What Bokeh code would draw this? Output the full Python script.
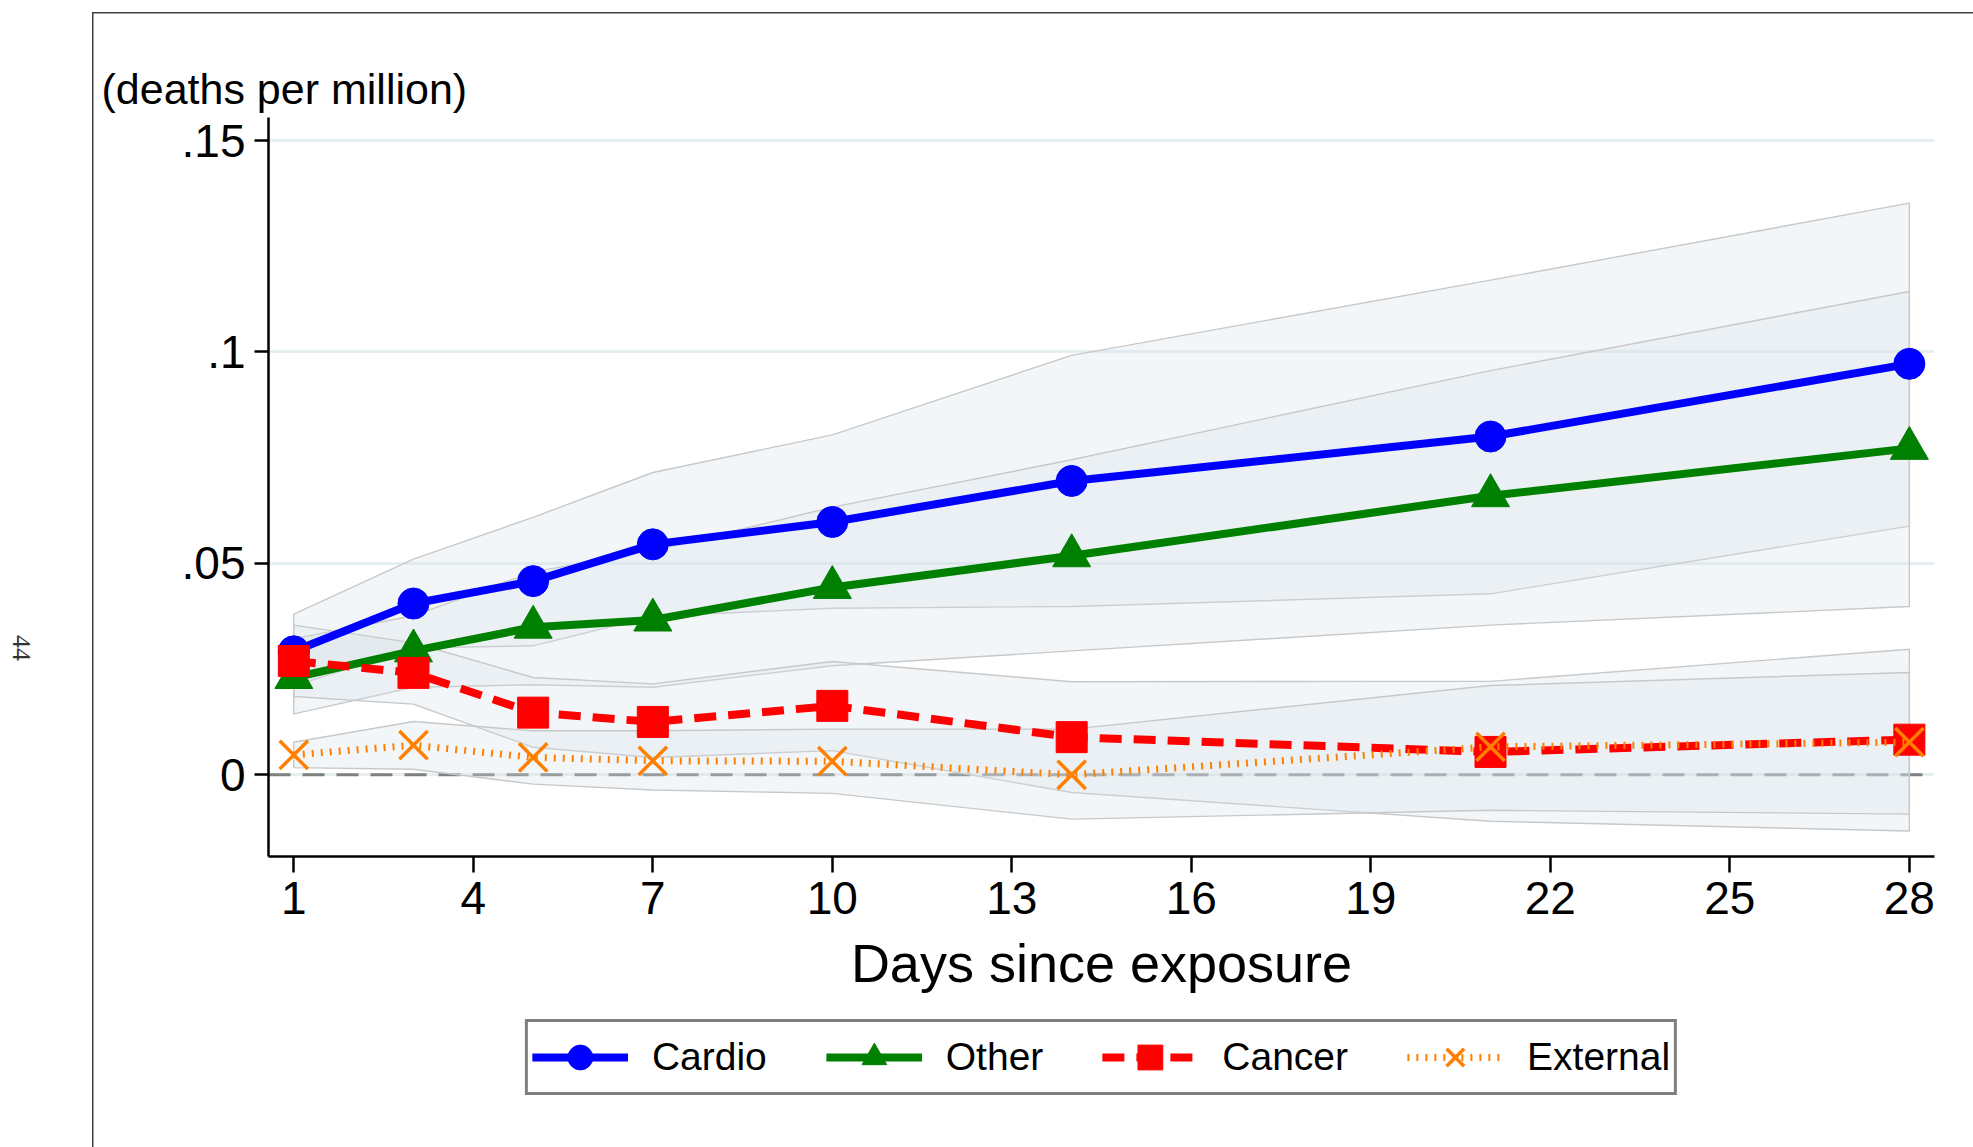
from bokeh.plotting import figure
from bokeh.layouts import row, column
from bokeh.models import Range1d, FixedTicker, Span, Legend, LegendItem, Title, Div
from bokeh.embed import file_html
from bokeh.resources import INLINE

# Days since exposure at which the effect is estimated
days = [1, 3, 5, 7, 10, 14, 21, 28]

# Estimated excess deaths per million, with 95% confidence bounds
cardio = [0.0292, 0.0405, 0.0458, 0.0545, 0.0598, 0.0695, 0.0800, 0.0972]
cardio_hi = [0.0380, 0.0510, 0.0609, 0.0715, 0.0804, 0.0992, 0.1170, 0.1352]
cardio_lo = [0.0210, 0.0300, 0.0305, 0.0375, 0.0394, 0.0398, 0.0428, 0.0588]

other = [0.0230, 0.0293, 0.0349, 0.0366, 0.0443, 0.0518, 0.0660, 0.0772]
other_hi = [0.0322, 0.0376, 0.0480, 0.0530, 0.0633, 0.0745, 0.0956, 0.1143]
other_lo = [0.0144, 0.0207, 0.0213, 0.0207, 0.0258, 0.0293, 0.0354, 0.0398]

cancer = [0.0269, 0.0241, 0.0147, 0.0125, 0.0163, 0.0089, 0.0054, 0.0083]
cancer_hi = [0.0354, 0.0312, 0.0230, 0.0215, 0.0268, 0.0220, 0.0221, 0.0297]
cancer_lo = [0.0185, 0.0167, 0.0065, 0.0041, 0.0057, -0.0042, -0.0110, -0.0133]

external = [0.0047, 0.0070, 0.0041, 0.0033, 0.0032, 0.0000, 0.0066, 0.0077]
external_hi = [0.0077, 0.0126, 0.0104, 0.0104, 0.0108, 0.0108, 0.0211, 0.0242]
external_lo = [0.0017, 0.0013, -0.0022, -0.0036, -0.0044, -0.0105, -0.0084, -0.0093]

x_ticks = [1, 4, 7, 10, 13, 16, 19, 22, 25, 28]
y_ticks = [0, 0.05, 0.1, 0.15]
y_tick_labels = {0: "0", 0.05: ".05", 0.1: ".1", 0.15: ".15"}

FONT = "Liberation Sans"
BORDER = "#404040"

# series styles shared by the chart and its key
STYLES = [
    ("Cardio", cardio, dict(line_color="#0000ff", line_width=8),
     dict(marker="circle", size=31, color="#0000ff")),
    ("Other", other, dict(line_color="#008000", line_width=8),
     dict(marker="triangle", size=38, color="#008000")),
    ("Cancer", cancer, dict(line_color="#ff0000", line_width=8, line_dash="22 12"),
     dict(marker="square", size=31, color="#ff0000")),
    ("External", external, dict(line_color="#ff8000", line_width=7, line_dash="2 7"),
     dict(marker="x", size=40, line_color="#ff8000", line_width=3.5)),
]

# ---- page margin with the page number, printed sideways ----
page_number = Div(
    text='<div style="position:relative;width:92px;height:1147px;">'
         '<span style="position:absolute;left:21px;top:648px;'
         'transform:translate(-50%,-50%) rotate(90deg);'
         "font-family:'Liberation Serif';font-size:26px;line-height:1;"
         'color:#333333;">44</span></div>',
    width=92, height=1147, margin=0)

# ---- main chart ----
p = figure(width=1881, height=1010, output_backend="svg", toolbar_location=None,
           x_range=Range1d(0.577, 28.42), y_range=Range1d(-0.01933, 0.15546),
           min_border_left=176, min_border_right=39,
           min_border_top=117, min_border_bottom=154, margin=0)
p.outline_line_color = None
p.background_fill_color = "white"
p.border_fill_alpha = 0
# thin graph-region border along the left and top edges
p.styles = {
    "background-color": "white",
    "background-image": f"linear-gradient({BORDER}, {BORDER}), "
                        f"linear-gradient({BORDER}, {BORDER})",
    "background-size": "1.5px 100%, 100% 1.5px",
    "background-position": "0px 12px, 0px 12px",
    "background-repeat": "no-repeat",
}

p.add_layout(Title(text="(deaths per million)", align="left", offset=-167,
                   standoff=10, text_font=FONT, text_font_size="43px",
                   text_font_style="normal", text_color="black"), "above")

# axes
p.xaxis.ticker = FixedTicker(ticks=x_ticks)
p.yaxis.ticker = FixedTicker(ticks=y_ticks)
p.yaxis.major_label_overrides = y_tick_labels
for ax in (p.xaxis[0], p.yaxis[0]):
    ax.axis_line_color = "black"
    ax.axis_line_width = 2.5
    ax.major_tick_line_color = "black"
    ax.major_tick_line_width = 2.5
    ax.major_tick_in = 0
    ax.minor_tick_line_color = None
    ax.major_label_text_font = FONT
    ax.major_label_text_font_size = "46px"
    ax.major_label_text_color = "black"
p.yaxis.major_tick_out = 14
p.yaxis.major_label_standoff = 9
p.xaxis.major_tick_out = 16
p.xaxis.major_label_standoff = 9
p.xaxis.axis_label = "Days since exposure"
p.xaxis.axis_label_text_font = FONT
p.xaxis.axis_label_text_font_size = "54px"
p.xaxis.axis_label_text_font_style = "normal"
p.xaxis.axis_label_text_color = "black"
p.xaxis.axis_label_standoff = 16

p.xgrid.visible = False
p.ygrid.ticker = FixedTicker(ticks=y_ticks)
p.ygrid.grid_line_color = "#e6eef1"
p.ygrid.grid_line_width = 3

# reference line at zero
p.add_layout(Span(location=0, dimension="width", line_color="#808080",
                  line_width=3, line_dash="22 12", level="underlay"))

# confidence bands
for hi, lo in ((cardio_hi, cardio_lo), (other_hi, other_lo),
               (cancer_hi, cancer_lo), (external_hi, external_lo)):
    p.patch(x=days + days[::-1], y=hi + lo[::-1],
            fill_color=(214, 224, 232), fill_alpha=0.3,
            line_color="#c8c8c8", line_width=1.4)

# point estimates
for name, ys, line_kw, mark_kw in STYLES:
    p.line(days, ys, **line_kw)
    p.scatter(days, ys, **mark_kw)

# ---- key strip below the chart ----
key = figure(width=1881, height=137, output_backend="svg", toolbar_location=None,
             x_range=Range1d(100, 101), y_range=Range1d(100, 101),
             min_border_left=176, min_border_right=39,
             min_border_top=0, min_border_bottom=0, margin=0)
key.outline_line_color = None
key.axis.visible = False
key.grid.visible = False
key.background_fill_alpha = 0
key.border_fill_alpha = 0
key.styles = {
    "background-color": "white",
    "background-image": f"linear-gradient({BORDER}, {BORDER})",
    "background-size": "1.5px 100%",
    "background-position": "0px 0px",
    "background-repeat": "no-repeat",
}
items = []
for name, ys, line_kw, mark_kw in STYLES:
    # same series, outside the strip's visible range: only the key shows
    lr = key.line(days, ys, **line_kw)
    mr = key.scatter(days, ys, **mark_kw)
    items.append(LegendItem(label=name, renderers=[lr, mr]))

legend = Legend(items=items, location="top_center", orientation="horizontal",
                glyph_width=96, glyph_height=62, padding=4, margin=9,
                spacing=59, label_standoff=24,
                label_text_font=FONT, label_text_font_size="39px",
                label_text_color="black",
                border_line_color="black", border_line_width=3,
                background_fill_color="white", background_fill_alpha=1)
key.add_layout(legend)

layout = row(page_number, column(p, key, spacing=0), spacing=0)

open("out.html", "w").write(file_html(layout, INLINE))
